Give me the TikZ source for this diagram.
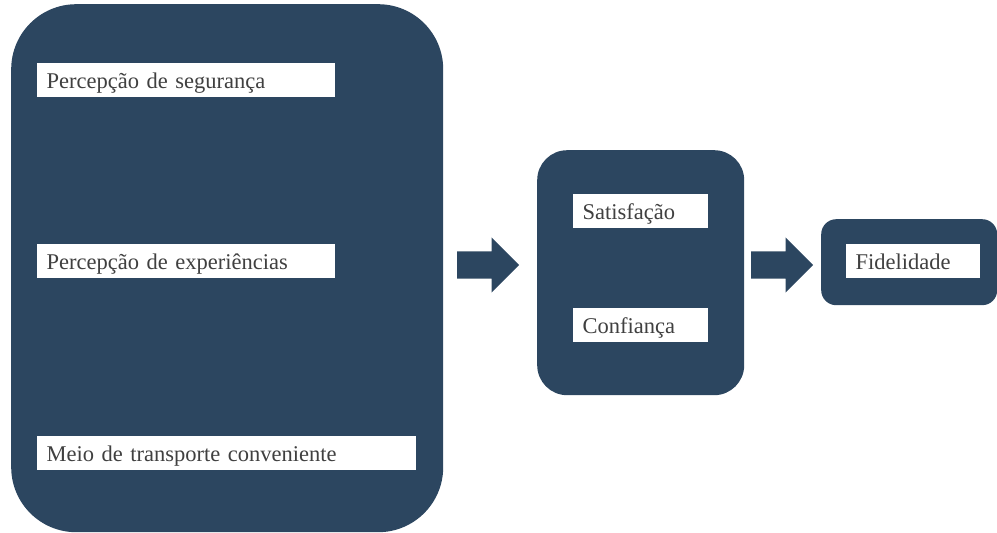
\documentclass[tikz,border=0pt]{standalone}
\usepackage{fontspec}
\setmainfont{Liberation Serif}
\usetikzlibrary{positioning,shapes.arrows}

\definecolor{boxblue}{RGB}{44,70,96}
\definecolor{textgray}{RGB}{64,64,64}

\tikzstyle{container} = [rectangle, anchor=north west, fill=boxblue, draw=none, inner sep=0pt]
\tikzstyle{factor} = [rectangle, anchor=north west, fill=white, draw=none, text=textgray,
inner xsep=9.5pt, inner ysep=0pt, minimum height=34pt, text height=17pt, text depth=1pt, align=left,
font=\fontsize{22.5}{27}\selectfont]
\tikzstyle{blockarrow} = [single arrow, anchor=tail, fill=boxblue, draw=none, inner xsep=0pt, inner ysep=13.5pt,
minimum height=62pt, minimum width=55pt, single arrow head extend=14pt, shape border rotate=0]

\begin{document}
\begin{tikzpicture}[x=1pt, y=-1pt]
			\useasboundingbox (0,0) rectangle (997,533);
			\node (antecedents) [container, minimum width=432pt, minimum height=528pt, rounded corners=65pt] at (11,4) {};
			\node (mediators) [container, minimum width=207pt, minimum height=245pt, rounded corners=30pt] at (537,150) {};
			\node (outcome) [container, minimum width=176pt, minimum height=86pt, rounded corners=15pt] at (821,219) {};

			\node (seguranca) [factor, text width=279pt] at (37,63) {Percepção de segurança};
			\node (experiencias) [factor, text width=279pt] at (37,244) {Percepção de experiências};
			\node (transporte) [factor, text width=360pt] at (37,436) {Meio de transporte conveniente};
			\node (satisfacao) [factor, text width=116pt] at (573,194) {Satisfação};
			\node (confianca) [factor, text width=116pt] at (573,308) {Confiança};
			\node (fidelidade) [factor, text width=115pt] at (846,244) {Fidelidade};

			\node (arrowIn) [blockarrow] at (457,265) {};
			\node (arrowOut) [blockarrow] at (751,265) {};
		\end{tikzpicture}
\end{document}
